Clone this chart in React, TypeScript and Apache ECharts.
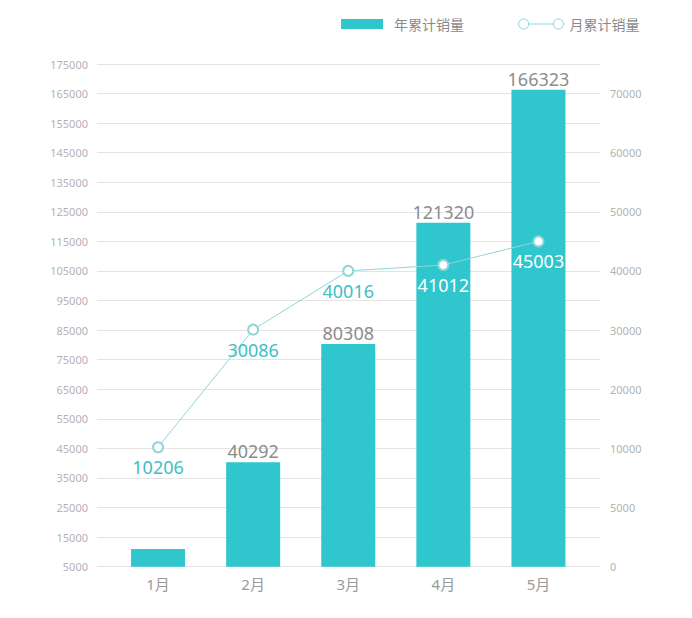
import React, { useEffect, useRef } from "react";
import * as echarts from "echarts";

const categories = ["1月", "2月", "3月", "4月", "5月"];
const yearTotals = [11000, 40292, 80308, 121320, 166323];
const monthTotals = [10206, 30086, 40016, 41012, 45003];
const rightTickLabels = ["0", "5000", "10000", "20000", "30000", "40000", "50000", "60000", "70000"];
const lineLabelColors = ["#3ec0c6", "#3ec0c6", "#3ec0c6", "#ffffff", "#ffffff"];
const barLabelShown = [false, true, true, true, true];

const LEFT_MIN = 5000;
const LEFT_MAX = 175000;
const LEFT_INTERVAL = 10000;
const RIGHT_MIN = -10000;
const RIGHT_MAX = 75000;
const RIGHT_INTERVAL = 10000;

const FONT = "'Noto Sans', 'Noto Sans CJK SC', sans-serif";
const BAR_COLOR = "#2fc6cd";
const LINE_COLOR = "#92d5d8";

export default function App() {
  const ref = useRef<HTMLDivElement>(null);
  useEffect(() => {
    if (!ref.current) return;
    const chart = echarts.init(ref.current, undefined, { renderer: "svg" });
    const top = 64;
    const bottom = 51.3;
    chart.setOption({
      animation: false,
      backgroundColor: "#ffffff",
      textStyle: { fontFamily: FONT },
      legend: [
        {
          data: [{ name: "年累计销量", icon: "rect" }],
          left: 336,
          top: 12,
          itemWidth: 42,
          itemHeight: 10,
          textStyle: { color: "#8a8a8a", fontSize: 14, fontFamily: FONT, padding: [0, 0, 0, 6] },
        },
        {
          data: [
            {
              name: "月累计销量",
              icon: "path://M1 6 A5 5 0 1 1 11 6 A5 5 0 1 1 1 6 Z M11 6 L35 6 M35 6 A5 5 0 1 1 45 6 A5 5 0 1 1 35 6 Z",
              itemStyle: { color: "#ffffff", borderColor: LINE_COLOR, borderWidth: 1 },
            },
          ],
          left: 513,
          top: 12,
          itemWidth: 45,
          itemHeight: 11,
          textStyle: { color: "#8a8a8a", fontSize: 14, fontFamily: FONT, padding: [0, 0, 0, 1] },
        },
      ],
      grid: [
        { left: 97, right: 92, top, bottom },
        { left: 110.5, right: 106, top, bottom },
      ],
      xAxis: [
        {
          type: "category",
          gridIndex: 0,
          data: categories,
          show: false,
        },
        {
          type: "category",
          gridIndex: 1,
          data: categories,
          axisLine: { show: false },
          axisTick: { show: false },
          axisLabel: { color: "#9a9a9a", fontSize: 15, margin: 10, fontFamily: FONT },
        },
      ],
      yAxis: [
        {
          type: "value",
          gridIndex: 0,
          position: "left",
          min: LEFT_MIN,
          max: LEFT_MAX,
          interval: LEFT_INTERVAL,
          axisLine: { show: false },
          axisTick: { show: false },
          axisLabel: {
            color: "#b3b3b3",
            fontSize: 11,
            margin: 9,
            fontFamily: FONT,
            formatter: (v: number) => String(v),
          },
          splitLine: { lineStyle: { color: "#e4e4e4", width: 1 } },
        },
        {
          type: "value",
          gridIndex: 0,
          position: "right",
          min: RIGHT_MIN,
          max: RIGHT_MAX,
          interval: RIGHT_INTERVAL,
          axisLine: { show: false },
          axisTick: { show: false },
          splitLine: { show: false },
          axisLabel: {
            color: "#b3b3b3",
            fontSize: 11,
            margin: 10,
            fontFamily: FONT,
            formatter: (v: number) => {
              if (v >= RIGHT_MAX) return "";
              const idx = Math.round((v - RIGHT_MIN) / RIGHT_INTERVAL);
              return rightTickLabels[idx] ?? "";
            },
          },
        },
        {
          type: "value",
          gridIndex: 1,
          min: LEFT_MIN,
          max: LEFT_MAX,
          interval: LEFT_INTERVAL,
          show: false,
          splitLine: { show: false },
        },
        {
          type: "value",
          gridIndex: 1,
          min: RIGHT_MIN,
          max: RIGHT_MAX,
          interval: RIGHT_INTERVAL,
          show: false,
          splitLine: { show: false },
        },
      ],
      series: [
        {
          name: "年累计销量",
          type: "bar",
          xAxisIndex: 1,
          yAxisIndex: 2,
          barWidth: 54,
          itemStyle: { color: BAR_COLOR },
          data: yearTotals.map((v, i) => ({
            value: v,
            label: { show: barLabelShown[i] },
          })),
          label: {
            show: true,
            position: "top",
            distance: 2,
            color: "#8c8c8c",
            fontSize: 18,
            fontFamily: FONT,
          },
        },
        {
          name: "月累计销量",
          type: "line",
          xAxisIndex: 1,
          yAxisIndex: 3,
          symbol: "emptyCircle",
          symbolSize: 10,
          lineStyle: { color: LINE_COLOR, width: 1 },
          itemStyle: { color: LINE_COLOR, borderColor: LINE_COLOR, borderWidth: 1.5 },
          data: monthTotals.map((v, i) => ({
            value: v,
            label: { color: lineLabelColors[i] },
          })),
          label: {
            show: true,
            position: "bottom",
            distance: 5,
            fontSize: 18,
            fontFamily: FONT,
          },
        },
      ],
    });
    return () => chart.dispose();
  }, []);
  return (
    <div
      ref={ref}
      style={{ position: "fixed", left: 0, top: 0, width: 692, height: 618, background: "#fff" }}
    />
  );
}
